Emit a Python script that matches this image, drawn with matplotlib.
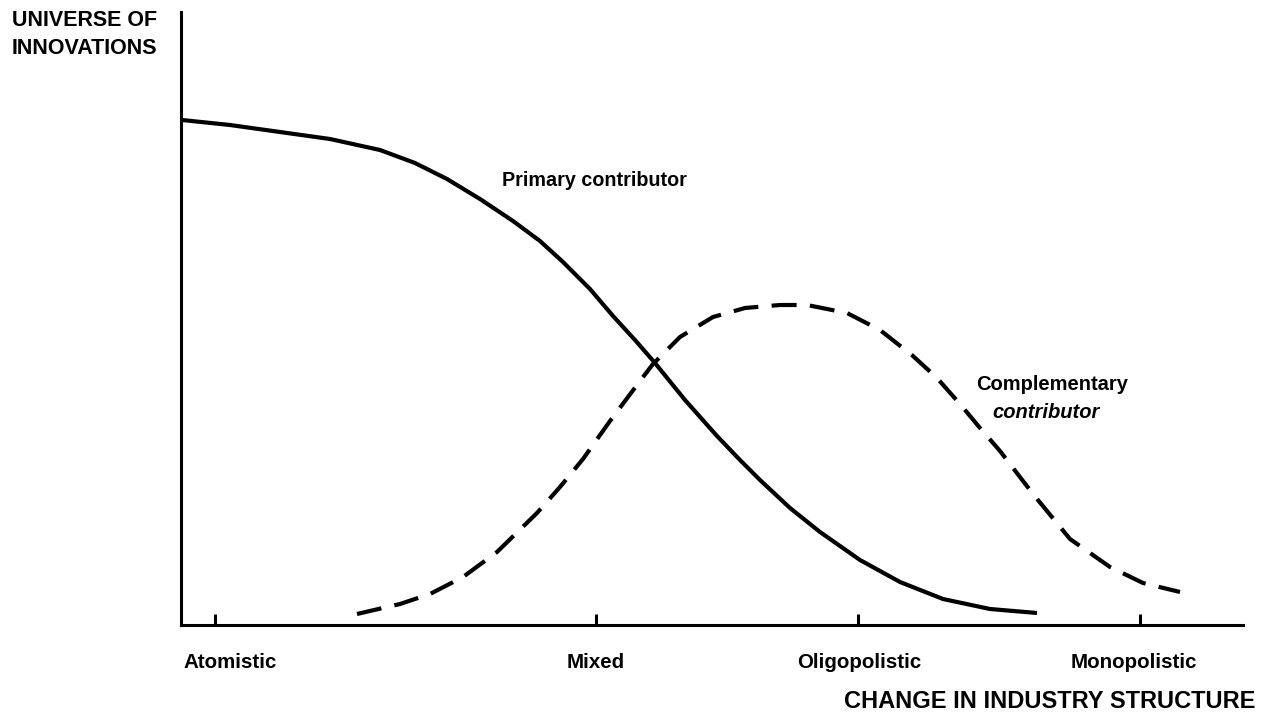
import numpy as np
import matplotlib
matplotlib.use("Agg")
import matplotlib.pyplot as plt

# values (arbitrary units, origin at the axes corner)
primary_x = [1, 49, 99, 149, 199, 234, 266, 299, 332, 359, 382, 409, 432, 454, 474,
             504, 536, 559, 579, 609, 639, 679, 719, 762, 809, 856]
primary_y = [505, 500, 493, 486, 475, 462, 446, 426, 404, 384, 363, 336, 309, 285, 262,
             225, 189, 165, 145, 117, 93, 65, 43, 26, 16, 12]

compl_x = [176, 219, 249, 282, 316, 356, 379, 402, 429, 459, 472, 499, 532, 564, 599,
           626, 666, 699, 732, 756, 779, 799, 819, 852, 889, 929, 962, 999]
compl_y = [11, 21, 31, 48, 73, 112, 138, 166, 204, 244, 261, 288, 308, 317, 320,
           320, 312, 295, 269, 247, 221, 197, 174, 131, 86, 58, 42, 33]

tick_pos = [34, 415, 677, 959]
tick_labels = ["Atomistic", "Mixed", "Oligopolistic", "Monopolistic"]
label_centers = [None, 415, 678, 953]

W, H = 1281, 721
plt.rcParams['font.family'] = ['Liberation Sans', 'DejaVu Sans']
fig = plt.figure(figsize=(W / 100, H / 100), dpi=100)
ax = fig.add_axes([181 / W, 96 / H, 1062 / W, 613 / H])

ax.plot(primary_x, primary_y, color='black', lw=3, solid_capstyle='butt',
        solid_joinstyle='round')
ax.plot(compl_x, compl_y, color='black', lw=3, dashes=(6, 3.2))

ax.set_xlim(0, 1062)
ax.set_ylim(0, 613)
for s in ['top', 'right']:
    ax.spines[s].set_visible(False)
for s in ['left', 'bottom']:
    ax.spines[s].set_linewidth(2.2)
ax.set_xticks(tick_pos)
ax.set_xticklabels([])
ax.set_yticks([])
ax.tick_params(axis='x', direction='in', length=8, width=2.2)


def ftext(px, py, s, **kw):
    fig.text(px / W, 1 - py / H, s, fontweight='bold', **kw)


# tick labels under the axis
ftext(183, 662, tick_labels[0], fontsize=14.8, ha='left', va='center')
for c, lab in zip(label_centers[1:], tick_labels[1:]):
    ftext(181 + c, 662, lab, fontsize=14.8, ha='center', va='center')

ftext(12, 20, "UNIVERSE OF", fontsize=15.5, ha='left', va='center')
ftext(12, 49, "INNOVATIONS", fontsize=15.5, ha='left', va='center')
ftext(1255, 701, "CHANGE IN INDUSTRY STRUCTURE", fontsize=17, ha='right', va='center')
ftext(502, 181, "Primary contributor", fontsize=14.2, ha='left', va='center')
ftext(1052, 384, "Complementary", fontsize=14.5, ha='center', va='center')
ftext(1046, 412, "contributor", fontsize=14.5, ha='center', va='center', style='italic')

fig.savefig("out.png", dpi=100)
